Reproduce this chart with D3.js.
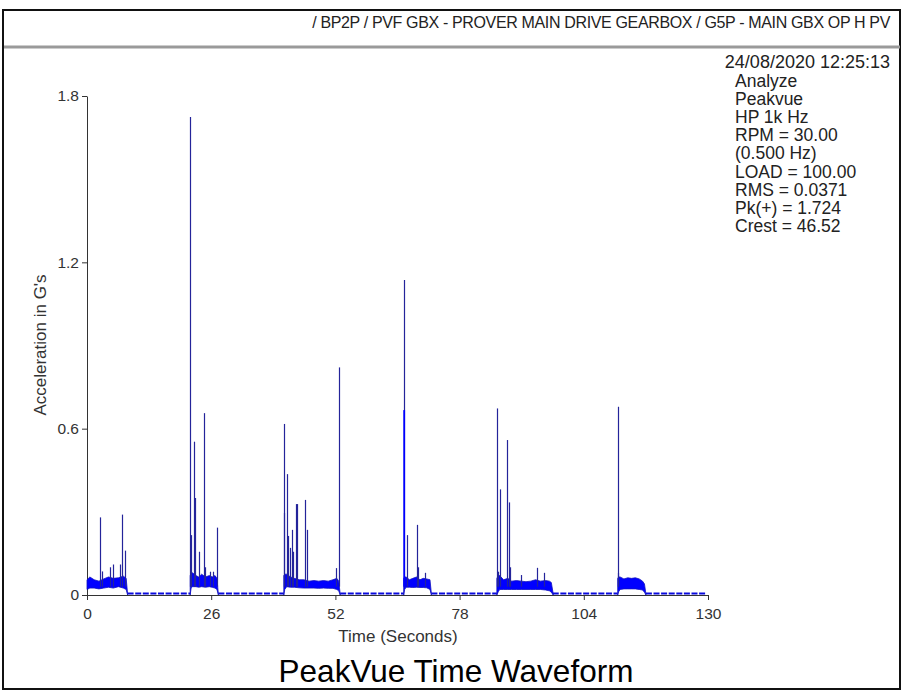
<!DOCTYPE html>
<html>
<head>
<meta charset="utf-8">
<script src="https://cdn.jsdelivr.net/npm/d3@7/dist/d3.min.js"></script>
<style>
  html, body { margin: 0; padding: 0; background: #fff; }
  svg { display: block; font-family: "Liberation Sans", Arial, sans-serif; }
</style>
</head>
<body>
<svg id="chart" width="903" height="690"></svg>
<script>
// Axis ticks
const xTicks = [0, 26, 52, 78, 104, 130];
const yTicks = [0, 0.6, 1.2, 1.8];

// Active bursts (seconds)
const burstStart = [0, 21.6, 41.2, 66.3, 85.8, 111.1];
const burstEnd   = [8.2, 27.2, 52.7, 71.8, 97.2, 116.7];
const recordEnd = 129.6;

// Noise band envelopes per burst: [time, lower G, upper G]
const band1 = [[0,0.02,0.055],[0.6,0.025,0.065],[1.5,0.025,0.055],[2.5,0.022,0.05],[3.5,0.025,0.058],[4.5,0.028,0.065],[5.5,0.025,0.06],[6.6,0.03,0.062],[7.6,0.025,0.068],[8.2,0.02,0.06],[8.5,0,0.004]];
const band2 = [[21.6,0.0,0.07],[21.8,0.025,0.075],[22.1,0.03,0.08],[22.8,0.03,0.07],[23.4,0.028,0.065],[24.0,0.03,0.075],[24.8,0.028,0.065],[25.6,0.03,0.07],[26.2,0.028,0.065],[26.8,0.025,0.07],[27.2,0.02,0.06],[27.5,0,0.004]];
const band3 = [[41.2,0.0,0.07],[41.4,0.02,0.075],[41.8,0.03,0.075],[42.6,0.028,0.065],[43.4,0.028,0.06],[44.4,0.026,0.055],[45.4,0.025,0.055],[46.5,0.025,0.05],[47.5,0.025,0.052],[48.5,0.024,0.05],[49.5,0.025,0.052],[50.5,0.024,0.05],[51.5,0.024,0.055],[52.3,0.02,0.06],[52.7,0.015,0.05],[53.0,0,0.004]];
const band4 = [[66.3,0.0,0.06],[66.5,0.02,0.065],[66.8,0.028,0.065],[67.5,0.028,0.055],[68.2,0.027,0.06],[69.0,0.028,0.065],[69.7,0.027,0.055],[70.4,0.027,0.06],[71.1,0.026,0.058],[71.8,0.02,0.055],[72.1,0,0.004]];
const band5 = [[85.8,0.0,0.06],[86.1,0.012,0.07],[86.4,0.02,0.07],[87.2,0.02,0.055],[88.1,0.02,0.06],[88.9,0.02,0.05],[89.9,0.02,0.052],[90.9,0.02,0.05],[91.9,0.02,0.048],[92.9,0.02,0.05],[93.9,0.02,0.055],[94.9,0.02,0.05],[96.0,0.018,0.052],[96.8,0.015,0.05],[97.2,0.01,0.045],[97.6,0,0.004]];
const band6 = [[111.1,0.0,0.06],[111.3,0.012,0.065],[111.6,0.02,0.065],[112.4,0.022,0.058],[113.2,0.022,0.062],[114.0,0.022,0.06],[114.8,0.022,0.062],[115.6,0.02,0.058],[116.3,0.018,0.05],[116.7,0.01,0.04],[117.0,0,0.004]];
const bands = [band1, band2, band3, band4, band5, band6];

// Impact spikes: time (s) and peak (G)
const spikeTime = [2.67, 3.08, 4.83, 5.39, 6.92, 7.40, 7.91,
  21.6, 21.8, 22.3, 22.7, 23.5, 24.5, 24.7, 25.7, 26.4, 27.2,
  41.2, 41.3, 41.9, 42.1, 42.6, 43.0, 43.2, 43.7, 43.9, 45.7, 46.0, 52.2, 52.7,
  66.3, 67.0, 69.0, 69.2, 70.8,
  85.8, 86.0, 86.5, 88.0, 88.4, 88.6, 90.8, 94.2, 95.7,
  111.1, 111.2];
const spikePeak = [0.28, 0.085, 0.10, 0.11, 0.11, 0.29, 0.16,
  1.724, 0.216, 0.553, 0.35, 0.156, 0.656, 0.10, 0.084, 0.084, 0.243,
  0.617, 0.296, 0.436, 0.213, 0.17, 0.235, 0.156, 0.328, 0.328, 0.343, 0.235, 0.097, 0.821,
  1.136, 0.216, 0.253, 0.10, 0.08,
  0.673, 0.084, 0.381, 0.559, 0.334, 0.10, 0.072, 0.098, 0.08,
  0.679, 0.08];
// Broad impacts drawn heavier
const heavyTime = [66.4];
const heavyPeak = [0.667];

const headerText = "/ BP2P / PVF GBX - PROVER MAIN DRIVE GEARBOX / G5P - MAIN GBX OP H PV";
const stampText = "24/08/2020 12:25:13";
const infoLines = ["Analyze", "Peakvue", "HP 1k Hz", "RPM = 30.00", "(0.500 Hz)",
  "LOAD = 100.00", "RMS = 0.0371", "Pk(+) = 1.724", "Crest = 46.52"];

const svg = d3.select("#chart");

// Frame and header
svg.append("rect").attr("x", 3).attr("y", 10).attr("width", 897).attr("height", 679)
  .attr("fill", "none").attr("stroke", "#111").attr("stroke-width", 2);
svg.append("line").attr("x1", 4).attr("x2", 900).attr("y1", 47).attr("y2", 47)
  .attr("stroke", "#9a9a9a").attr("stroke-width", 3);
svg.append("text").attr("x", 890).attr("y", 28).attr("text-anchor", "end")
  .attr("font-size", 16).attr("letter-spacing", -0.35).attr("fill", "#222")
  .text(headerText);

svg.append("text").attr("x", 890).attr("y", 68).attr("text-anchor", "end")
  .attr("font-size", 18).attr("fill", "#222").text(stampText);
svg.append("g").selectAll("text").data(infoLines).join("text")
  .attr("x", 735).attr("y", (d, i) => 87 + i * 18.1)
  .attr("font-size", 17.5).attr("fill", "#222").text(d => d);

// Scales
const x = d3.scaleLinear().domain([0, 130]).range([87, 708]);
const y = d3.scaleLinear().domain([0, 1.8]).range([595, 96]);

// Axes
const xAxis = svg.append("g").attr("transform", "translate(0,595)")
  .call(d3.axisBottom(x).tickValues(xTicks).tickSize(5).tickSizeOuter(0).tickFormat(d3.format("d")));
const yAxis = svg.append("g").attr("transform", "translate(87,0)")
  .call(d3.axisLeft(y).tickValues(yTicks).tickSize(5).tickSizeOuter(0).tickFormat(d => d === 0 ? "0" : d3.format(".1f")(d)));
[xAxis, yAxis].forEach(g => {
  g.selectAll("path, line").attr("stroke", "#333");
  g.selectAll("text").attr("font-size", 15.5).attr("fill", "#333")
    .attr("font-family", "'Liberation Sans', Arial, sans-serif");
});
xAxis.selectAll("text").attr("dy", "1.05em");

svg.append("text").attr("transform", "translate(46,345) rotate(-90)")
  .attr("text-anchor", "middle").attr("font-size", 17).attr("fill", "#333")
  .text("Acceleration in G's");
svg.append("text").attr("x", 398).attr("y", 642).attr("text-anchor", "middle")
  .attr("font-size", 17).attr("fill", "#333").text("Time (Seconds)");
svg.append("text").attr("x", 456).attr("y", 682).attr("text-anchor", "middle")
  .attr("font-size", 31.5).attr("fill", "#000").text("PeakVue Time Waveform");

// Waveform
const plot = svg.append("g");

// Quiet stretches between bursts sit on the zero line
const quiet = burstEnd.map((e, i) => [e + 0.3, i + 1 < burstStart.length ? burstStart[i + 1] : recordEnd]);
plot.selectAll("line.quiet").data(quiet).join("line").attr("class", "quiet")
  .attr("x1", d => x(d[0])).attr("x2", d => x(d[1]))
  .attr("y1", y(0) - 1.5).attr("y2", y(0) - 1.5)
  .attr("stroke", "#0a0adc").attr("stroke-width", 2.2)
  .attr("stroke-dasharray", "6 1.6");

const area = d3.area().x(d => x(d[0])).y0(d => y(d[1])).y1(d => y(d[2]));
plot.selectAll("path.band").data(bands).join("path").attr("class", "band")
  .attr("d", area).attr("fill", "#0000ff").attr("stroke", "#1010c0").attr("stroke-width", 0.8);

plot.selectAll("line.spike").data(spikeTime).join("line").attr("class", "spike")
  .attr("x1", d => Math.round(x(d)) + 0.5).attr("x2", d => Math.round(x(d)) + 0.5)
  .attr("y1", y(0.03)).attr("y2", (d, i) => y(spikePeak[i]))
  .attr("stroke", "#24249a").attr("stroke-width", 1.2);

plot.selectAll("line.heavy").data(heavyTime).join("line").attr("class", "heavy")
  .attr("x1", d => x(d)).attr("x2", d => x(d))
  .attr("y1", y(0.03)).attr("y2", (d, i) => y(heavyPeak[i]))
  .attr("stroke", "#0000ff").attr("stroke-width", 1.8);
</script>
</body>
</html>
